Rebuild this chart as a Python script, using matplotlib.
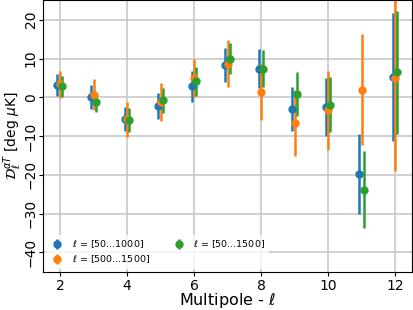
import numpy as np
import matplotlib.pyplot as plt

ell = np.array([2, 3, 4, 5, 6, 7, 8, 9, 10, 11, 12])

d_a = np.array([3.1, 0.1, -5.5, -2.3, 2.8, 8.4, 7.4, -3.1, -2.5, -19.8, 5.2])
e_a = np.array([2.8, 3.0, 3.1, 3.4, 3.9, 4.4, 5.0, 5.7, 7.5, 10.3, 16.5])

d_b = np.array([3.3, 0.7, -5.7, -1.2, 5.0, 8.7, 1.4, -6.6, -3.4, 2.0, 5.0])
e_b = np.array([3.6, 4.0, 4.5, 5.0, 5.0, 6.0, 7.2, 8.5, 10.3, 14.3, 24.0])

d_c = np.array([2.8, -1.3, -5.8, -0.8, 4.1, 10.0, 7.4, 0.9, -1.9, -23.8, 6.4])
e_c = np.array([2.6, 2.5, 3.1, 3.3, 3.7, 4.0, 4.8, 5.7, 7.1, 10.0, 15.8])

labels = [r"$\ell$ = [50...1000]", r"$\ell$ = [500...1500]", r"$\ell$ = [50...1500]"]

fig, ax = plt.subplots(figsize=(4.13, 3.10), dpi=100)
fig.subplots_adjust(left=0.105, right=0.998, bottom=0.123, top=0.999)

for d, e, off, c, lab in [
    (d_a, e_a, -0.08, "C0", labels[0]),
    (d_b, e_b, 0.0, "C1", labels[1]),
    (d_c, e_c, 0.06, "C2", labels[2]),
]:
    ax.errorbar(ell + off, d, yerr=e, fmt="o", color=c, ms=5,
                elinewidth=1.8, capsize=0, label=lab)

ax.set_xlim(1.5, 12.5)
ax.set_ylim(-45, 25)
ax.set_xticks([2, 4, 6, 8, 10, 12])
ax.set_yticks([-40, -30, -20, -10, 0, 10, 20])
ax.tick_params(labelsize=10, length=3, pad=2)
ax.tick_params(axis="y", pad=1)
for t in ax.get_yticklabels():
    t.set_rotation(90)
    t.set_va("center")
ax.grid(True, color="#c8c8c8", lw=1.2)
ax.set_axisbelow(True)
ax.set_xlabel(r"Multipole - $\ell$", fontsize=11.5, labelpad=-1)
ax.set_ylabel(r"$\mathcal{D}_\ell^{\alpha T}$ [deg $\mu$K]", fontsize=10)
ax.yaxis.set_label_coords(-0.052, 0.5)
ax.legend(loc="lower left", ncol=2, fontsize=6.8, frameon=True,
          edgecolor="none", framealpha=0.8, columnspacing=2.3,
          handlelength=1.5, borderaxespad=0.3, labelspacing=0.35)

plt.savefig("out.png", dpi=100)
